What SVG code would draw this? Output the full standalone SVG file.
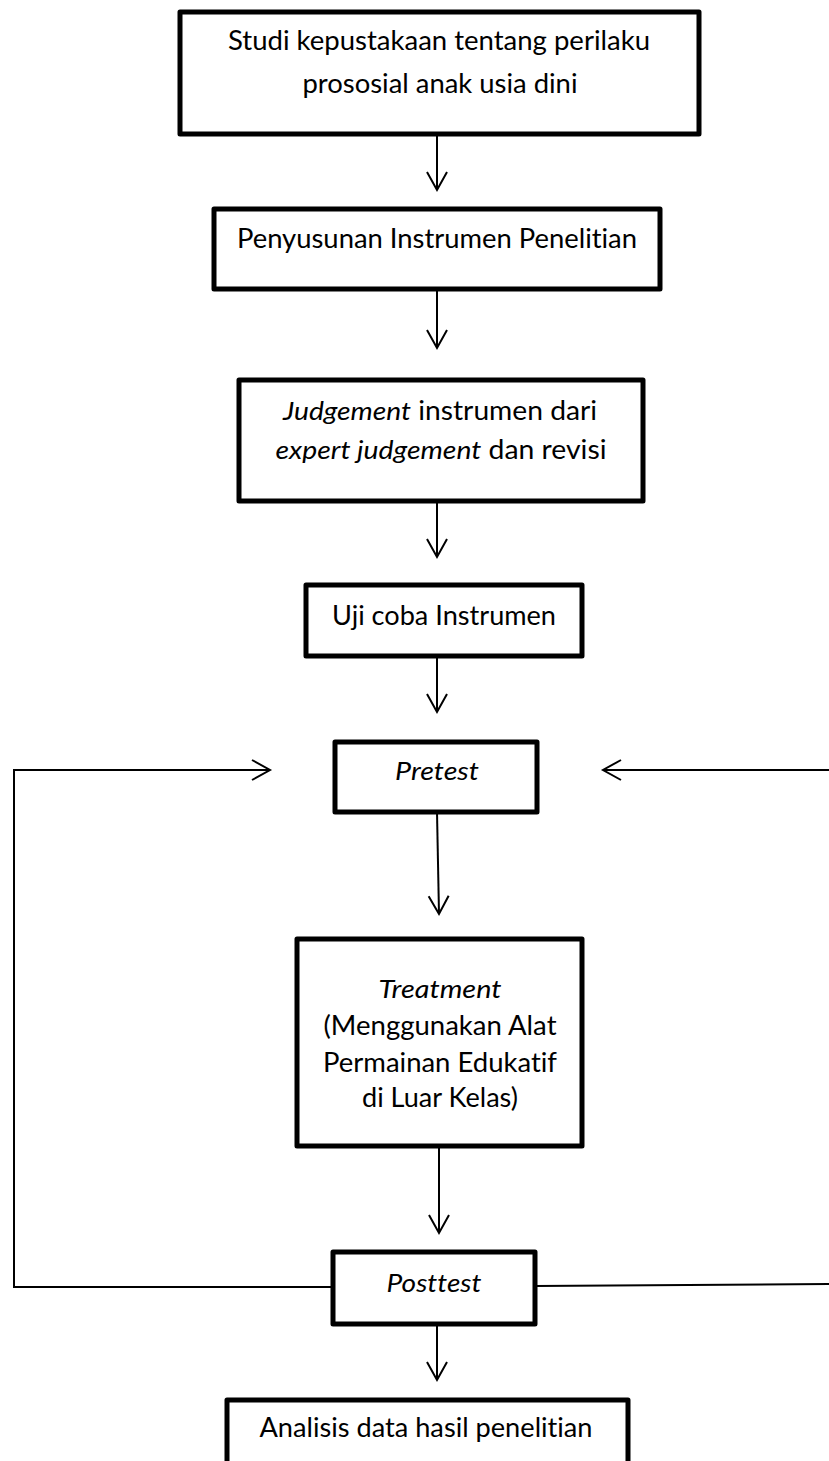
<svg xmlns="http://www.w3.org/2000/svg" width="829" height="1461" viewBox="0 0 829 1461">
<style>
.box{fill:#fff;stroke:#000;stroke-width:5;stroke-linejoin:round}
.t{font-family:Lato,"Open Sans","Liberation Sans",sans-serif;font-size:26px;fill:#000;text-anchor:middle;font-variant-ligatures:none}
.i{font-style:italic}
.c{fill:none;stroke:#000;stroke-width:2}
</style>
<defs>
<marker id="ah" markerUnits="userSpaceOnUse" markerWidth="24" markerHeight="24" viewBox="-20 -12 24 24" refX="0" refY="0" orient="auto">
<path d="M-18,-10 L0,0 L-18,10" fill="none" stroke="#000" stroke-width="2"/>
</marker>
</defs>
<rect width="829" height="1461" fill="#fff"/>
<g id="connectors">
<line class="c" x1="437" y1="134" x2="437" y2="190" marker-end="url(#ah)"/>
<line class="c" x1="437" y1="289" x2="437" y2="348" marker-end="url(#ah)"/>
<line class="c" x1="437" y1="501" x2="437" y2="557" marker-end="url(#ah)"/>
<line class="c" x1="437" y1="656" x2="437" y2="712" marker-end="url(#ah)"/>
<line class="c" x1="437" y1="812" x2="439" y2="914" marker-end="url(#ah)"/>
<line class="c" x1="439" y1="1146" x2="439" y2="1233" marker-end="url(#ah)"/>
<line class="c" x1="437" y1="1324" x2="437" y2="1380" marker-end="url(#ah)"/>
<polyline class="c" points="333,1287 14,1287 14,770 270,770" marker-end="url(#ah)"/>
<line class="c" x1="535" y1="1286" x2="829" y2="1284"/>
<line class="c" x1="829" y1="770" x2="603" y2="770" marker-end="url(#ah)"/>
</g>
<g id="n1">
<rect class="box" x="180" y="12" width="519" height="122"/>
<text class="t" x="439" y="50" textLength="422" lengthAdjust="spacingAndGlyphs">Studi kepustakaan tentang perilaku</text>
<text class="t" x="440" y="93" textLength="275" lengthAdjust="spacingAndGlyphs">prososial anak usia dini</text>
</g>
<g id="n2">
<rect class="box" x="214" y="209" width="446" height="80"/>
<text class="t" x="437" y="248" textLength="400" lengthAdjust="spacingAndGlyphs">Penyusunan Instrumen Penelitian</text>
</g>
<g id="n3">
<rect class="box" x="239" y="380" width="404" height="121"/>
<text class="t" x="440" y="420" textLength="314" lengthAdjust="spacingAndGlyphs"><tspan class="i">Judgement</tspan> instrumen dari</text>
<text class="t" x="441" y="459" textLength="331" lengthAdjust="spacingAndGlyphs"><tspan class="i">expert judgement</tspan> dan revisi</text>
</g>
<g id="n4">
<rect class="box" x="306" y="585" width="276" height="71"/>
<text class="t" x="444" y="625" textLength="224" lengthAdjust="spacingAndGlyphs">Uji coba Instrumen</text>
</g>
<g id="n5">
<rect class="box" x="335" y="742" width="202" height="70"/>
<text class="t i" x="437" y="780" textLength="84" lengthAdjust="spacingAndGlyphs">Pretest</text>
</g>
<g id="n6">
<rect class="box" x="297" y="939" width="285" height="207"/>
<text class="t i" x="440" y="998" textLength="123" lengthAdjust="spacingAndGlyphs">Treatment</text>
<text class="t" x="440" y="1035" textLength="233" lengthAdjust="spacingAndGlyphs">(Menggunakan Alat</text>
<text class="t" x="440" y="1072" textLength="234" lengthAdjust="spacingAndGlyphs">Permainan Edukatif</text>
<text class="t" x="440" y="1107" textLength="156" lengthAdjust="spacingAndGlyphs">di Luar Kelas)</text>
</g>
<g id="n7">
<rect class="box" x="333" y="1252" width="202" height="72"/>
<text class="t i" x="434" y="1292" textLength="95" lengthAdjust="spacingAndGlyphs">Posttest</text>
</g>
<g id="n8">
<rect class="box" x="227" y="1400" width="401" height="80"/>
<text class="t" x="426" y="1437" textLength="333" lengthAdjust="spacingAndGlyphs">Analisis data hasil penelitian</text>
</g>
</svg>
